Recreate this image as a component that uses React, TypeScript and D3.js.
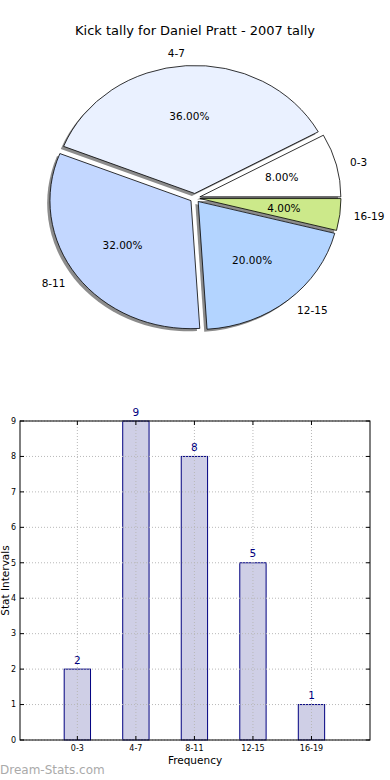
import React from "react";
import * as d3 from "d3";

const title = "Kick tally for Daniel Pratt - 2007 tally";
const categories = ["0-3", "4-7", "8-11", "12-15", "16-19"];
const counts = [2, 9, 8, 5, 1];
const sliceColors = ["#ffffff", "#eaf1ff", "#c3d7ff", "#b3d4ff", "#cce98a"];
const yTicks = [0, 1, 2, 3, 4, 5, 6, 7, 8, 9];

const W = 390;
const H = 780;
const font = "'DejaVu Sans', sans-serif";

const Pie = () => {
  const cx = 195, cy = 198;
  const rx = 141, ry = 128;
  const k = ry / rx;
  const explode = 5;
  const total = d3.sum(counts);

  const slices = d3
    .pie<number>()
    .sort(null)
    .startAngle(Math.PI / 2)
    .endAngle(Math.PI / 2 - 2 * Math.PI)(counts);

  const arc = d3.arc<d3.PieArcDatum<number>>().innerRadius(0).outerRadius(rx);

  const mid = (d: d3.PieArcDatum<number>) => (d.startAngle + d.endAngle) / 2;
  const dir = (d: d3.PieArcDatum<number>) => [Math.sin(mid(d)), -Math.cos(mid(d))];

  return (
    <g>
      <g transform={`translate(${cx},${cy}) scale(1,${k})`}>
        {slices.map((d, i) => {
          const [ux, uy] = dir(d);
          return (
            <path
              key={"s" + i}
              d={arc(d) || ""}
              transform={`translate(${ux * explode - 2.8},${uy * explode + 2.8})`}
              fill="#000"
              fillOpacity={0.45}
            />
          );
        })}
        {slices.map((d, i) => {
          const [ux, uy] = dir(d);
          return (
            <path
              key={"w" + i}
              d={arc(d) || ""}
              transform={`translate(${ux * explode},${uy * explode})`}
              fill={sliceColors[i]}
              stroke="#000"
              strokeWidth={0.8}
              vectorEffect="non-scaling-stroke"
            />
          );
        })}
      </g>
      {slices.map((d, i) => {
        const [ux, uy] = dir(d);
        const ox = cx + ux * explode;
        const oy = cy + uy * explode * k;
        const lx = ox + ux * rx * 1.1;
        const ly = oy + uy * ry * 1.1;
        const px = ox + ux * rx * 0.6;
        const py = oy + uy * ry * 0.6;
        return (
          <g key={"t" + i} fontFamily={font} fontSize={10.5} fill="#000">
            <text x={lx} y={ly} dy="0.35em" textAnchor={ux > 0 ? "start" : "end"}>
              {categories[i]}
            </text>
            <text x={px} y={py} dy="0.35em" textAnchor="middle">
              {((counts[i] / total) * 100).toFixed(2) + "%"}
            </text>
          </g>
        );
      })}
    </g>
  );
};

const Bars = () => {
  const left = 20, right = 370, top = 421, bottom = 740;
  const x = d3.scaleLinear().domain([-0.98, 5]).range([left, right]);
  const y = d3.scaleLinear().domain([0, 9]).range([bottom, top]);
  const bw = x(0.45) - x(0);
  const grid = "#b8b8b8";

  return (
    <g fontFamily={font}>
      {categories.map((c, i) => (
        <rect
          key={"b" + c}
          x={x(i) - bw / 2}
          y={y(counts[i])}
          width={bw}
          height={y(0) - y(counts[i])}
          fill="#cfcfe6"
          stroke="#000080"
          strokeWidth={1}
        />
      ))}
      {yTicks.map((t) => (
        <g key={"y" + t}>
          <line x1={left} x2={right} y1={y(t)} y2={y(t)} stroke={grid} strokeDasharray="1,2" />
          <line x1={left} x2={left + 4} y1={y(t)} y2={y(t)} stroke="#000" />
          <line x1={right - 4} x2={right} y1={y(t)} y2={y(t)} stroke="#000" />
          <text x={left - 4} y={y(t)} dy="0.35em" textAnchor="end" fontSize={8} fill="#000">
            {t}
          </text>
        </g>
      ))}
      {categories.map((c, i) => (
        <g key={"x" + c}>
          <line x1={x(i)} x2={x(i)} y1={top} y2={bottom} stroke={grid} strokeDasharray="1,2" />
          <line x1={x(i)} x2={x(i)} y1={bottom - 4} y2={bottom} stroke="#000" />
          <line x1={x(i)} x2={x(i)} y1={top} y2={top + 4} stroke="#000" />
          <text x={x(i)} y={bottom + 8} dy="0.35em" textAnchor="middle" fontSize={8} fill="#000">
            {c}
          </text>
          <text x={x(i)} y={y(counts[i]) - 9} dy="0.35em" textAnchor="middle" fontSize={10.5} fill="#000080">
            {counts[i]}
          </text>
        </g>
      ))}
      <rect x={left} y={top} width={right - left} height={bottom - top} fill="none" stroke="#000" strokeWidth={1} />
      <text x={(left + right) / 2} y={760} dy="0.35em" textAnchor="middle" fontSize={10.5} fill="#000">
        Frequency
      </text>
      <text
        transform={`translate(5,${(top + bottom) / 2}) rotate(-90)`}
        dy="0.35em"
        textAnchor="middle"
        fontSize={10.5}
        fill="#000"
      >
        Stat Intervals
      </text>
    </g>
  );
};

export default function App() {
  return (
    <svg
      width={W}
      height={H}
      style={{ position: "absolute", left: 0, top: 0, background: "#fff" }}
    >
      <rect width={W} height={H} fill="#fff" />
      <text x={195} y={30} dy="0.35em" textAnchor="middle" fontFamily={font} fontSize={13} fill="#000">
        {title}
      </text>
      <Pie />
      <Bars />
      <text x={0} y={770} dy="0.35em" fontFamily={font} fontSize={12} fill="#aaaaaa">
        Dream-Stats.com
      </text>
    </svg>
  );
}
